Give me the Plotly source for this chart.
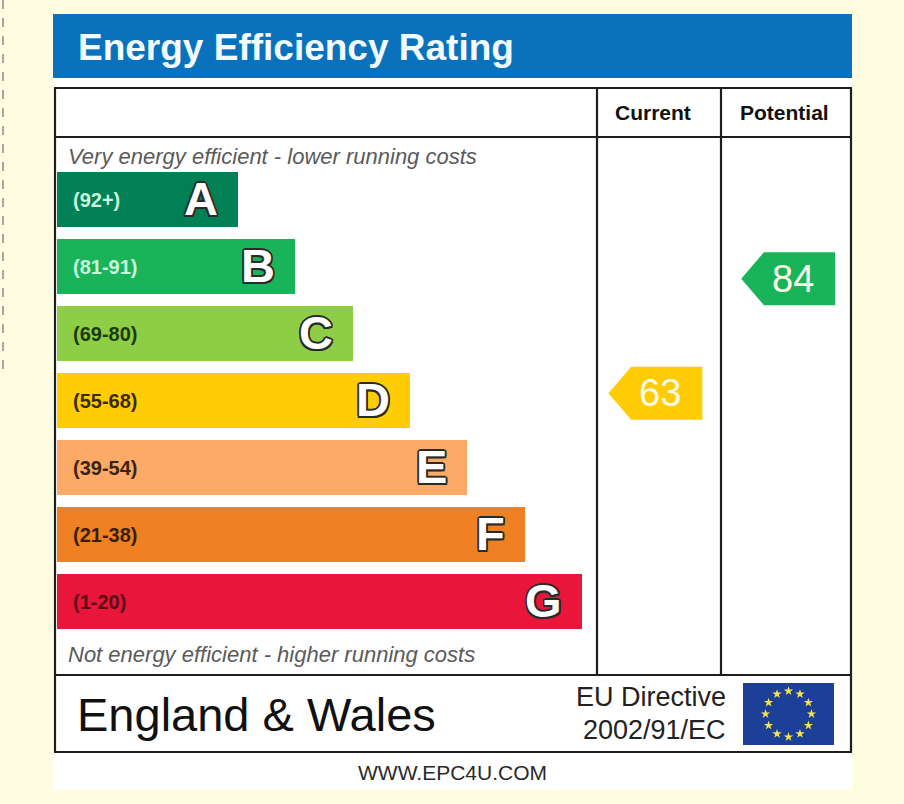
import plotly.graph_objects as go
import numpy as np

# ---------------- data ----------------
title_text = "Energy Efficiency Rating"
column_labels = ["Current", "Potential"]
bands = ["A", "B", "C", "D", "E", "F", "G"]
range_labels = ["(92+)", "(81-91)", "(69-80)", "(55-68)", "(39-54)", "(21-38)", "(1-20)"]
range_low = [92, 81, 69, 55, 39, 21, 1]
range_high = [100, 91, 80, 68, 54, 38, 20]
band_colors = ["#008054", "#19b459", "#8dce46", "#ffcc05", "#fcaa65", "#ef8023", "#e9153b"]
range_text_colors = ["#c9f7df", "#c9f7df", "#1c3a0c", "#3a2a0a", "#3a2412", "#3a1e0a", "#5a0a14"]
current_score = 63
potential_score = 84
scores = [current_score, potential_score]
top_note = "Very energy efficient - lower running costs"
bottom_note = "Not energy efficient - higher running costs"
region_text = "England & Wales"
directive_lines = ["EU Directive", "2002/91/EC"]
footer_url = "WWW.EPC4U.COM"
n_flag_stars = 12

# ---------------- layout helpers ----------------
W, H = 904, 804
def px(x):
    return x / W
def py(y):
    return 1 - y / H

BG = "#fefde1"
LINE = "#1e1e1e"
FONT = "Liberation Sans"

# band geometry (row units / step units)
STEP_PX = 57.33
ROW_PX = 67.0
ROW0_PX = 199.5
bar_len = [3.157 + i for i in range(len(bands))]
rows = list(range(len(bands)))

def band_of(score):
    for i, (lo, hi) in enumerate(zip(range_low, range_high)):
        if lo <= score <= hi:
            return i
    return len(bands) - 1

def row_of(score):
    i = band_of(score)
    lo, hi = range_low[i], range_high[i]
    return i + (hi - score + 0.5) / (hi - lo + 1) - 0.5

fig = go.Figure()

# bars
fig.add_trace(go.Bar(
    orientation="h", x=bar_len, y=rows, base=0, width=55.5 / ROW_PX,
    marker=dict(color=band_colors, line=dict(width=0)),
    hoverinfo="skip", showlegend=False, xaxis="x", yaxis="y",
))

# arrows (current, potential)
TIP = 0.09
BODY = 0.743
NOSE = 0.18
AH = 53 / ROW_PX
for c, s in enumerate(scores):
    r = row_of(s)
    col = band_colors[band_of(s)]
    x0 = c + TIP + 0.05 * c
    xs = [x0, x0 + NOSE, x0 + BODY, x0 + BODY, x0 + NOSE, x0]
    ys = [r, r - AH / 2, r - AH / 2, r + AH / 2, r + AH / 2, r]
    fig.add_trace(go.Scatter(
        x=xs, y=ys, mode="lines", fill="toself", fillcolor=col,
        line=dict(width=0, color=col), hoverinfo="skip", showlegend=False,
        xaxis="x2", yaxis="y",
    ))
    fig.add_annotation(
        x=x0 + BODY / 2 + 0.035, y=r, xref="x2", yref="y", text=str(s),
        showarrow=False, font=dict(family=FONT, size=38, color="#fffbe6"),
        xanchor="center", yanchor="middle",
    )

# EU flag stars
ang = np.arange(n_flag_stars) * 2 * np.pi / n_flag_stars
fig.add_trace(go.Scatter(
    x=0.505 * np.cos(ang), y=0.74 * np.sin(ang), mode="markers",
    marker=dict(symbol="star", size=7, color="#f6e34a", line=dict(width=0)),
    hoverinfo="skip", showlegend=False, xaxis="x3", yaxis="y3",
))

# band labels
OUT = "#2a2a2a"
for i in rows:
    fig.add_annotation(
        x=0, y=i, xref="x", yref="y", text=range_labels[i], showarrow=False,
        xanchor="left", yanchor="middle", xshift=14,
        font=dict(family=FONT, size=20, color=range_text_colors[i], weight="bold"),
    )
    fig.add_annotation(
        x=bar_len[i], y=i, xref="x", yref="y", text=bands[i], showarrow=False,
        xanchor="right", yanchor="middle", xshift=-18, yshift=1,
        font=dict(family=FONT, size=47, color="#ffffff", weight="bold",
                  shadow=f"-1.5px -1.5px 0 {OUT}, 1.5px -1.5px 0 {OUT}, -1.5px 1.5px 0 {OUT}, 1.5px 1.5px 0 {OUT}, 0 1.7px 0 {OUT}, 0 -1.7px 0 {OUT}, 1.7px 0 0 {OUT}, -1.7px 0 0 {OUT}"),
    )

# shapes
shapes = []
# dashed left border of page
shapes.append(dict(type="line", xref="paper", yref="paper", x0=px(3), x1=px(3), y0=py(0), y1=py(375),
                   line=dict(color="#8a8a8a", width=1.5, dash="dash"), layer="below"))
# white label background
shapes.append(dict(type="rect", xref="paper", yref="paper", x0=px(53), x1=px(852), y0=py(790), y1=py(14),
                   fillcolor="#ffffff", line=dict(width=0), layer="below"))
# blue title band
shapes.append(dict(type="rect", xref="paper", yref="paper", x0=px(53), x1=px(852), y0=py(78), y1=py(14),
                   fillcolor="#0a72bd", line=dict(width=0), layer="below"))
# EU flag
shapes.append(dict(type="rect", xref="paper", yref="paper", x0=px(743), x1=px(834), y0=py(745), y1=py(683),
                   fillcolor="#1c3f98", line=dict(width=0), layer="below"))
# table outline
def hline(y, x0=54, x1=852, w=2.2):
    shapes.append(dict(type="line", xref="paper", yref="paper", x0=px(x0), x1=px(x1), y0=py(y), y1=py(y),
                       line=dict(color=LINE, width=w), layer="above"))
def vline(x, y0=88, y1=752, w=2.2):
    shapes.append(dict(type="line", xref="paper", yref="paper", x0=px(x), x1=px(x), y0=py(y0), y1=py(y1),
                       line=dict(color=LINE, width=w), layer="above"))
hline(88)
hline(137)
hline(675)
hline(752)
vline(55)
vline(851)
vline(597, 88, 675)
vline(721, 88, 675)

# text annotations (static labels)
def label(x, y, text, size, color="#111", xanchor="left", weight="normal", style="normal", family=FONT):
    fig.add_annotation(x=px(x), y=py(y), xref="paper", yref="paper", text=text, showarrow=False,
                       xanchor=xanchor, yanchor="middle",
                       font=dict(family=family, size=size, color=color, weight=weight, style=style))

label(76, 47, title_text, 37, color="#f2fbff", weight="bold")
label(653, 112, column_labels[0], 21, weight="bold", xanchor="center")
label(784, 112, column_labels[1], 21, weight="bold", xanchor="center")
label(66, 156, top_note, 22, color="#5a5a5a", style="italic")
label(66, 654, bottom_note, 22, color="#5a5a5a", style="italic")
label(75, 714, region_text, 47, color="#111")
label(728, 697, directive_lines[0], 27, color="#222", xanchor="right")
label(728, 730, directive_lines[1], 27, color="#222", xanchor="right")
label(452, 772, footer_url, 21, color="#2a2a2a", xanchor="center")

hidden = dict(showgrid=False, zeroline=False, showticklabels=False, showline=False, ticks="",
              fixedrange=True)

fig.update_layout(
    width=W, height=H,
    margin=dict(l=0, r=0, t=0, b=0),
    paper_bgcolor=BG, plot_bgcolor="rgba(0,0,0,0)",
    showlegend=False, shapes=shapes,
    xaxis=dict(domain=[px(57), px(597)], range=[0, (597 - 57) / STEP_PX], anchor="y", **hidden),
    yaxis=dict(domain=[py(675), py(137)],
               range=[(675 - ROW0_PX) / ROW_PX, (137 - ROW0_PX) / ROW_PX], anchor="x", **hidden),
    xaxis2=dict(domain=[px(597), px(850)], range=[0, 2], anchor="y", **hidden),
    xaxis3=dict(domain=[px(743), px(834)], range=[-1, 1], anchor="y3", **hidden),
    yaxis3=dict(domain=[py(745), py(683)], range=[-1, 1], anchor="x3", **hidden),
    bargap=0,
)

fig.write_html(
    "out.html",
    config={"displayModeBar": False},
    post_script="document.body.style.margin='0px';document.body.style.background='" + BG + "';",
)
